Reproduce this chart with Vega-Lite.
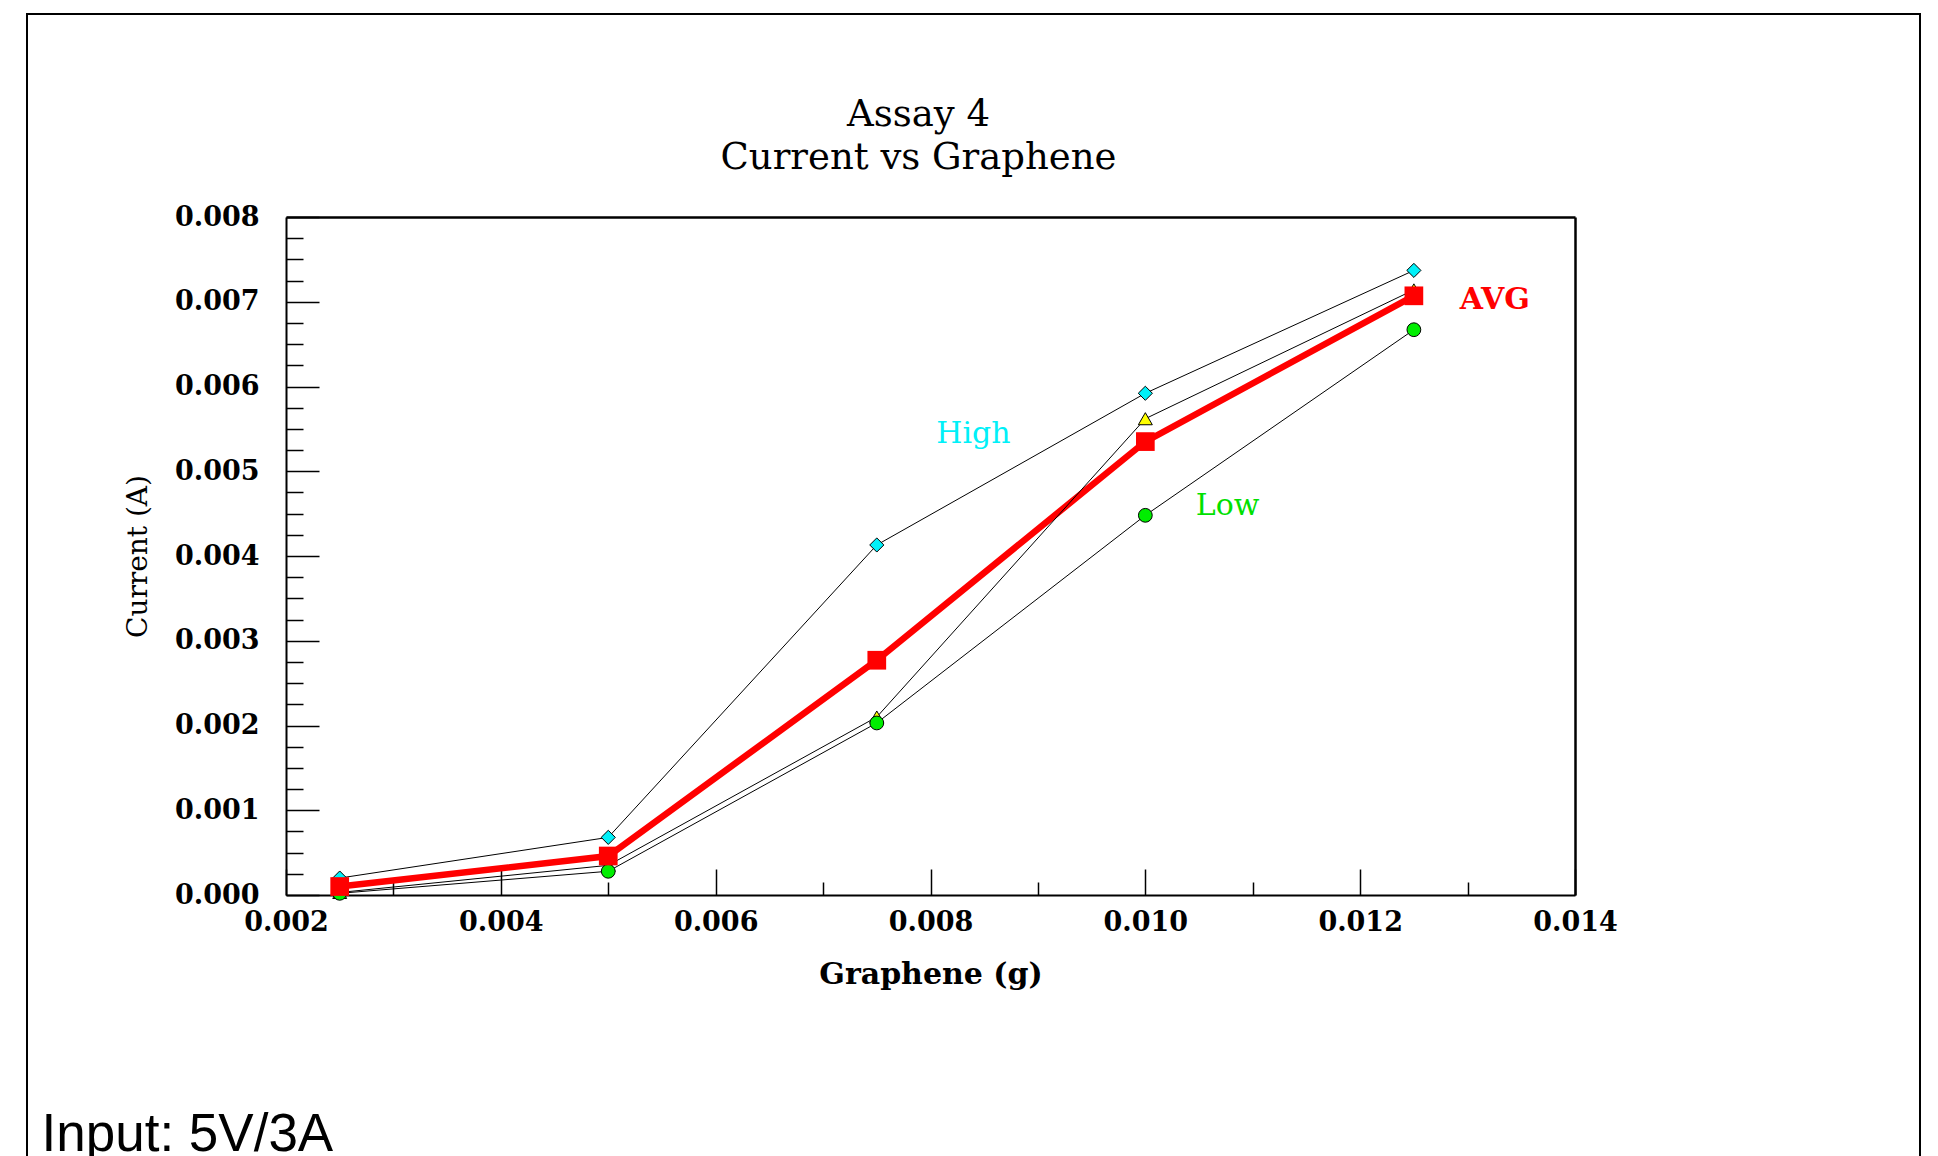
{
  "$schema": "https://vega.github.io/schema/vega-lite/v6.json",
  "width": 1893,
  "height": 1200,
  "padding": {"left": 27, "top": 14, "right": 10, "bottom": 0},
  "background": "white",
  "title": {
    "text": ["Assay 4", "Current vs Graphene"],
    "font": "DejaVu Serif",
    "fontSize": 37,
    "fontWeight": "normal",
    "color": "black",
    "lineHeight": 43,
    "anchor": "middle",
    "frame": "group",
    "baseline": "top",
    "offset": -163,
    "dx": -55
  },
  "config": {
    "view": {"stroke": "black", "strokeWidth": 2},
    "axis": {"grid": false}
  },
  "datasets": {
    "series": [
      {"g": 0.0025, "current": 0.0002, "series": "High"},
      {"g": 0.005, "current": 0.00068, "series": "High"},
      {"g": 0.0075, "current": 0.00413, "series": "High"},
      {"g": 0.01, "current": 0.00592, "series": "High"},
      {"g": 0.0125, "current": 0.00737, "series": "High"},
      {"g": 0.0025, "current": 0.00003, "series": "Mid"},
      {"g": 0.005, "current": 0.00035, "series": "Mid"},
      {"g": 0.0075, "current": 0.0021, "series": "Mid"},
      {"g": 0.01, "current": 0.00562, "series": "Mid"},
      {"g": 0.0125, "current": 0.00714, "series": "Mid"},
      {"g": 0.0025, "current": 0.00002, "series": "Low"},
      {"g": 0.005, "current": 0.00028, "series": "Low"},
      {"g": 0.0075, "current": 0.00203, "series": "Low"},
      {"g": 0.01, "current": 0.00448, "series": "Low"},
      {"g": 0.0125, "current": 0.00667, "series": "Low"},
      {"g": 0.0025, "current": 0.0001, "series": "AVG"},
      {"g": 0.005, "current": 0.00046, "series": "AVG"},
      {"g": 0.0075, "current": 0.00277, "series": "AVG"},
      {"g": 0.01, "current": 0.00535, "series": "AVG"},
      {"g": 0.0125, "current": 0.00707, "series": "AVG"}
    ],
    "labels": [
      {"g": 0.0084, "current": 0.00544, "label": "High"},
      {"g": 0.010766, "current": 0.00459, "label": "Low"},
      {"g": 0.013254, "current": 0.007015, "label": "AVG"}
    ]
  },
  "resolve": {"axis": {"x": "independent", "y": "independent"}},
  "layer": [
    {
      "data": {"name": "series"},
      "transform": [{"filter": "datum.series === 'AVG'"}],
      "mark": {"type": "line", "color": "#ff0000", "strokeWidth": 6.5},
      "encoding": {
        "x": {
          "field": "g", "type": "quantitative",
          "scale": {"domain": [0.002, 0.014], "range": [259, 1548], "nice": false, "zero": false},
          "axis": {
            "orient": "bottom", "offset": -319,
            "values": [0.002, 0.004, 0.006, 0.008, 0.01, 0.012, 0.014],
            "format": ".3f",
            "tickSize": -26, "tickWidth": 1.5, "tickColor": "black",
            "domainColor": "black", "domainWidth": 2,
            "labelFont": "DejaVu Serif", "labelFontSize": 27, "labelFontWeight": "bold", "labelColor": "black",
            "labelPadding": 40, "labelFlush": false, "labelOverlap": false,
            "title": "Graphene (g)", "titleFont": "DejaVu Serif", "titleFontSize": 30,
            "titleFontWeight": "bold", "titleColor": "black", "titlePadding": 24,
            "grid": false
          }
        },
        "y": {
          "field": "current", "type": "quantitative",
          "scale": {"domain": [0, 0.008], "range": [881, 203], "nice": false, "zero": false},
          "axis": {
            "orient": "left", "offset": -259,
            "values": [0, 0.001, 0.002, 0.003, 0.004, 0.005, 0.006, 0.007, 0.008],
            "format": ".3f",
            "tickSize": -33, "tickWidth": 1.5, "tickColor": "black",
            "domainColor": "black", "domainWidth": 2,
            "labelFont": "DejaVu Serif", "labelFontSize": 27, "labelFontWeight": "bold", "labelColor": "black",
            "labelPadding": 60, "labelFlush": false, "labelOverlap": false,
            "title": "Current (A)", "titleFont": "DejaVu Serif", "titleFontSize": 28,
            "titleFontWeight": "normal", "titleColor": "black", "titlePadding": 22,
            "grid": false
          }
        }
      }
    },
    {
      "data": {"name": "series"},
      "transform": [{"filter": "datum.series !== 'AVG'"}],
      "mark": {"type": "line", "color": "black", "strokeWidth": 1},
      "encoding": {
        "detail": {"field": "series"},
        "x": {
          "field": "g", "type": "quantitative",
          "scale": {"domain": [0.002, 0.014], "range": [259, 1548], "nice": false, "zero": false},
          "axis": {
            "orient": "bottom", "offset": -319,
            "values": [0.003, 0.005, 0.007, 0.009, 0.011, 0.013],
            "tickSize": -13, "tickWidth": 1.5, "tickColor": "black",
            "domain": false, "labels": false, "grid": false,
            "title": "Input: 5V/3A", "titleFont": "Liberation Sans", "titleFontSize": 53,
            "titleFontWeight": "normal", "titleColor": "black",
            "titleX": 14, "titleY": 255, "titleAlign": "left", "titleBaseline": "alphabetic", "titleAngle": 0
          }
        },
        "y": {
          "field": "current", "type": "quantitative",
          "scale": {"domain": [0, 0.008], "range": [881, 203], "nice": false, "zero": false},
          "axis": {
            "orient": "left", "offset": -259,
            "values": [0.00025, 0.0005, 0.00075, 0.00125, 0.0015, 0.00175, 0.00225, 0.0025, 0.00275, 0.00325, 0.0035, 0.00375, 0.00425, 0.0045, 0.00475, 0.00525, 0.0055, 0.00575, 0.00625, 0.0065, 0.00675, 0.00725, 0.0075, 0.00775],
            "tickSize": -17, "tickWidth": 1.5, "tickColor": "black",
            "domain": false, "labels": false, "grid": false, "title": null
          }
        }
      }
    },
    {
      "data": {"name": "series"},
      "transform": [{"filter": "datum.series !== 'AVG'"}],
      "mark": {"type": "point", "filled": true, "stroke": "black", "strokeWidth": 1, "opacity": 1},
      "encoding": {
        "x": {
          "field": "g", "type": "quantitative",
          "scale": {"domain": [0.002, 0.014], "range": [259, 1548], "nice": false, "zero": false},
          "axis": {
            "orient": "top", "offset": -203,
            "domain": true, "domainColor": "black", "domainWidth": 2.5,
            "ticks": false, "labels": false, "grid": false, "title": null
          }
        },
        "y": {
          "field": "current", "type": "quantitative",
          "scale": {"domain": [0, 0.008], "range": [881, 203], "nice": false, "zero": false},
          "axis": {
            "orient": "right", "offset": -345,
            "domain": true, "domainColor": "black", "domainWidth": 2.5,
            "ticks": false, "labels": false, "grid": false, "title": null
          }
        },
        "shape": {
          "field": "series", "type": "nominal",
          "scale": {"domain": ["High", "Mid", "Low"], "range": ["diamond", "triangle-up", "circle"]},
          "legend": null
        },
        "fill": {
          "field": "series", "type": "nominal",
          "scale": {"domain": ["High", "Mid", "Low"], "range": ["#00f0f8", "#ffff00", "#00ee00"]},
          "legend": null
        },
        "size": {
          "field": "series", "type": "nominal",
          "scale": {"domain": ["High", "Mid", "Low"], "range": [200, 190, 150]},
          "legend": null
        }
      }
    },
    {
      "data": {"name": "series"},
      "transform": [{"filter": "datum.series === 'AVG'"}],
      "mark": {"type": "point", "shape": "square", "filled": true, "color": "#ff0000", "size": 350, "opacity": 1},
      "encoding": {
        "x": {"field": "g", "type": "quantitative", "scale": {"domain": [0.002, 0.014], "range": [259, 1548], "nice": false, "zero": false}, "axis": null},
        "y": {"field": "current", "type": "quantitative", "scale": {"domain": [0, 0.008], "range": [881, 203], "nice": false, "zero": false}, "axis": null}
      }
    },
    {
      "data": {"name": "labels"},
      "transform": [{"filter": "datum.label !== 'AVG'"}],
      "mark": {"type": "text", "font": "DejaVu Serif", "fontSize": 30, "fontWeight": "normal", "align": "center", "baseline": "middle"},
      "encoding": {
        "x": {"field": "g", "type": "quantitative", "scale": {"domain": [0.002, 0.014], "range": [259, 1548], "nice": false, "zero": false}, "axis": null},
        "y": {"field": "current", "type": "quantitative", "scale": {"domain": [0, 0.008], "range": [881, 203], "nice": false, "zero": false}, "axis": null},
        "text": {"field": "label"},
        "color": {
          "field": "label", "type": "nominal",
          "scale": {"domain": ["High", "Low"], "range": ["#00f0f8", "#00e000"]},
          "legend": null
        }
      }
    },
    {
      "data": {"name": "labels"},
      "transform": [{"filter": "datum.label === 'AVG'"}],
      "mark": {"type": "text", "font": "DejaVu Serif", "fontSize": 30, "fontWeight": "bold", "align": "center", "baseline": "middle", "color": "#ff0000"},
      "encoding": {
        "x": {"field": "g", "type": "quantitative", "scale": {"domain": [0.002, 0.014], "range": [259, 1548], "nice": false, "zero": false}, "axis": null},
        "y": {"field": "current", "type": "quantitative", "scale": {"domain": [0, 0.008], "range": [881, 203], "nice": false, "zero": false}, "axis": null},
        "text": {"field": "label"}
      }
    }
  ]
}
